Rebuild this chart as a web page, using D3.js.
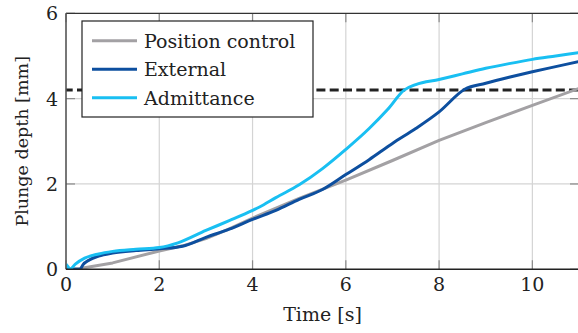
<!DOCTYPE html>
<html>
<head>
<meta charset="utf-8">
<script src="https://cdn.jsdelivr.net/npm/d3@7"></script>
<style>
  body { margin: 0; background: #fff; }
</style>
</head>
<body>
<div id="chart"></div>
<script>
// values
const posT   = [0, 0.3, 1, 2, 2.5, 3, 3.5, 4, 5, 6, 7, 8, 9, 10, 11];
const posY   = [0, 0.02, 0.15, 0.43, 0.55, 0.72, 0.95, 1.2, 1.66, 2.09, 2.55, 3.02, 3.44, 3.84, 4.24];

const extT   = [0, 0.3, 0.34, 0.36, 0.5, 0.7, 1, 1.5, 2, 2.5, 3, 3.5, 4, 4.5, 5, 5.5, 6, 6.5, 7, 7.5, 8, 8.55, 9, 9.5, 10, 10.5, 11];
const extY   = [0, 0, 0.06, 0.1, 0.22, 0.31, 0.38, 0.44, 0.48, 0.54, 0.75, 0.94, 1.17, 1.38, 1.64, 1.87, 2.22, 2.57, 2.95, 3.3, 3.69, 4.22, 4.36, 4.5, 4.63, 4.75, 4.87];

const admT   = [0, 0.05, 0.08, 0.2, 0.4, 0.7, 1, 1.5, 2, 2.4, 3, 3.5, 4, 4.15, 4.5, 5, 5.5, 6, 6.5, 6.9, 7.25, 7.5, 8, 8.5, 9, 9.5, 10, 10.5, 11];
const admY   = [0.12, 0.05, 0, 0.12, 0.26, 0.36, 0.42, 0.47, 0.51, 0.62, 0.91, 1.14, 1.38, 1.46, 1.68, 1.98, 2.36, 2.81, 3.3, 3.75, 4.2, 4.33, 4.45, 4.58, 4.71, 4.82, 4.92, 5.0, 5.08];

const refDepth = 4.2;
const xTicks = [0, 2, 4, 6, 8, 10];
const yTicks = [0, 2, 4, 6];

const seriesNames  = ['Position control', 'External', 'Admittance'];
const seriesColors = ['#a3a1a4', '#0d4f9f', '#19bff2'];

const series = [
  posT.map((t, i) => [t, posY[i]]),
  extT.map((t, i) => [t, extY[i]]),
  admT.map((t, i) => [t, admY[i]])
];

var width = 578, height = 333;
var margin = { left: 66, right: -1, top: 13.3, bottom: 63.7 };
var serif = "'DejaVu Serif', 'Liberation Serif', serif";

var svg = d3.select('#chart').append('svg')
    .attr('width', width)
    .attr('height', height)
    .attr('font-family', serif)
    .style('font-family', serif);

var x = d3.scaleLinear().domain([0, 11]).range([margin.left, width - margin.right]);
var y = d3.scaleLinear().domain([0, 6]).range([height - margin.bottom, margin.top]);

svg.append('clipPath').attr('id', 'clip')
  .append('rect')
    .attr('x', x(0)).attr('y', y(6))
    .attr('width', x(11) - x(0)).attr('height', y(0) - y(6));

// grid
svg.append('g').selectAll('line')
  .data(xTicks.slice(1))
  .enter().append('line')
    .attr('x1', d => x(d)).attr('x2', d => x(d))
    .attr('y1', y(0)).attr('y2', y(6))
    .attr('stroke', '#d4d4d4').attr('stroke-width', 1.2);

svg.append('g').selectAll('line')
  .data(yTicks.slice(1, -1))
  .enter().append('line')
    .attr('x1', x(0)).attr('x2', x(11))
    .attr('y1', d => y(d)).attr('y2', d => y(d))
    .attr('stroke', '#d4d4d4').attr('stroke-width', 1.2);

// inward tick marks on all four sides
var tk = 9;
var tickG = svg.append('g').attr('stroke', '#8a8a8a').attr('stroke-width', 1.2);
xTicks.forEach(d => {
  tickG.append('line').attr('x1', x(d)).attr('x2', x(d)).attr('y1', y(0)).attr('y2', y(0) - tk);
  tickG.append('line').attr('x1', x(d)).attr('x2', x(d)).attr('y1', y(6)).attr('y2', y(6) + tk);
});
yTicks.forEach(d => {
  tickG.append('line').attr('x1', x(0)).attr('x2', x(0) + tk).attr('y1', y(d)).attr('y2', y(d));
  tickG.append('line').attr('x1', x(11)).attr('x2', x(11) - tk).attr('y1', y(d)).attr('y2', y(d));
});

// reference depth
svg.append('line')
    .attr('x1', x(0)).attr('x2', x(11))
    .attr('y1', y(refDepth)).attr('y2', y(refDepth))
    .attr('stroke', '#222')
    .attr('stroke-width', 3)
    .attr('stroke-dasharray', '9,4.3')
    .attr('stroke-dashoffset', 2.3);

var line = d3.line().x(d => x(d[0])).y(d => y(d[1])).curve(d3.curveMonotoneX);
var lineRaw = d3.line().x(d => x(d[0])).y(d => y(d[1]));

svg.append('g').attr('clip-path', 'url(#clip)')
  .selectAll('path')
  .data(series)
  .enter().append('path')
    .attr('d', (d, i) => i === 0 ? lineRaw(d) : line(d))
    .attr('fill', 'none')
    .attr('stroke', (d, i) => seriesColors[i])
    .attr('stroke-width', 3)
    .attr('stroke-linejoin', 'round');

// frame
svg.append('line').attr('x1', x(0)).attr('x2', x(11)).attr('y1', y(6)).attr('y2', y(6))
    .attr('stroke', '#333').attr('stroke-width', 1.3);
svg.append('line').attr('x1', x(0)).attr('x2', x(0)).attr('y1', y(0)).attr('y2', y(6))
    .attr('stroke', '#555').attr('stroke-width', 1.6);
svg.append('line').attr('x1', x(0)).attr('x2', x(11)).attr('y1', y(0)).attr('y2', y(0))
    .attr('stroke', '#222').attr('stroke-width', 1.4);

// tick labels
svg.append('g').selectAll('text')
  .data(xTicks)
  .enter().append('text')
    .attr('x', d => x(d))
    .attr('y', y(0) + 22)
    .attr('text-anchor', 'middle')
    .attr('font-size', 19)
    .attr('fill', '#222')
    .text(d => d);

svg.append('g').selectAll('text')
  .data(yTicks)
  .enter().append('text')
    .attr('x', x(0) - 8)
    .attr('y', d => y(d) + 7)
    .attr('text-anchor', 'end')
    .attr('font-size', 19)
    .attr('fill', '#222')
    .text(d => d);

// axis titles
svg.append('text')
    .attr('x', (x(0) + 578) / 2 + 0.5)
    .attr('y', 321)
    .attr('text-anchor', 'middle')
    .attr('font-size', 19)
    .attr('fill', '#222')
    .text('Time [s]');

svg.append('text')
    .attr('transform', `translate(28,${(y(0) + y(6)) / 2}) rotate(-90)`)
    .attr('text-anchor', 'middle')
    .attr('font-size', 17.5)
    .attr('fill', '#222')
    .text('Plunge depth [mm]');

// legend
var legend = svg.append('g');
legend.append('rect')
    .attr('x', 82).attr('y', 21)
    .attr('width', 231).attr('height', 96)
    .attr('fill', '#fff')
    .attr('stroke', '#222').attr('stroke-width', 1.2);

var rowY = [40.7, 69.2, 97.7];
seriesNames.forEach((name, i) => {
  legend.append('line')
      .attr('x1', 92).attr('x2', 137)
      .attr('y1', rowY[i]).attr('y2', rowY[i])
      .attr('stroke', seriesColors[i]).attr('stroke-width', 3);
  legend.append('text')
      .attr('x', 144).attr('y', rowY[i] + 7)
      .attr('font-size', 19)
      .attr('fill', '#222')
      .text(name);
});
</script>
</body>
</html>
